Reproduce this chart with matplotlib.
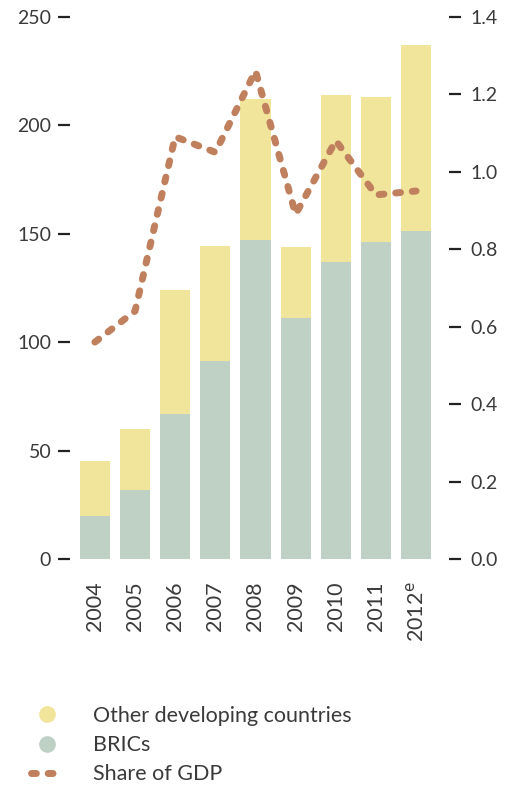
import matplotlib
matplotlib.use("Agg")
import matplotlib.pyplot as plt
from matplotlib.lines import Line2D
import numpy as np

plt.rcParams['font.family'] = ['Lato', 'DejaVu Sans']

# data
years = ['2004', '2005', '2006', '2007', '2008', '2009', '2010', '2011', '2012$^{\\rm e}$']
brics = [20, 32, 67, 91.5, 147, 111, 137, 146, 151]
totals = [45, 60, 124, 144.5, 212, 144, 214, 213, 237]
other = [t - b for t, b in zip(totals, brics)]
gdp_share = [0.56, 0.64, 1.09, 1.05, 1.26, 0.89, 1.08, 0.94, 0.95]

yellow = '#F1E59B'
green = '#BFD0C4'
brown = '#C0805E'
txt = '#3a3a3a'

fig = plt.figure(figsize=(5.07, 7.86), dpi=100)
ax = fig.add_axes([70/507, 1 - 559/786, (449 - 70)/507, (559 - 16.7)/786])

x = np.arange(len(years))
ax.bar(x, brics, width=0.75, color=green, zorder=2)
ax.bar(x, other, bottom=brics, width=0.75, color=yellow, zorder=2)

ax.set_xlim(-0.62, 8.82)
ax.set_ylim(0, 250)
ax.set_yticks([0, 50, 100, 150, 200, 250])
ax.set_xticks(x)
ax.set_xticklabels(years, rotation=90, fontsize=15.5, color=txt)
ax.tick_params(axis='x', length=0, pad=16)
ax.tick_params(axis='y', direction='out', length=8.5, width=1.6, color='#222222',
               labelsize=14, labelcolor=txt, pad=5)
for s in ax.spines.values():
    s.set_visible(False)

ax2 = ax.twinx()
ax2.set_ylim(0, 1.4)
ax2.set_yticks([0.0, 0.2, 0.4, 0.6, 0.8, 1.0, 1.2, 1.4])
ax2.set_yticklabels(['0.0', '0.2', '0.4', '0.6', '0.8', '1.0', '1.2', '1.4'])
ax2.tick_params(axis='y', direction='out', length=8.5, width=1.6, color='#222222',
                labelsize=14, labelcolor=txt, pad=7)
for s in ax2.spines.values():
    s.set_visible(False)

line, = ax2.plot(x, gdp_share, color=brown, lw=5, solid_capstyle='round',
                 dash_capstyle='round', zorder=3)
line.set_dashes((0.7, 1.7))

handles = [
    Line2D([], [], ls='none', marker='o', ms=11, color=yellow),
    Line2D([], [], ls='none', marker='o', ms=11, color=green),
    Line2D([], [], color=brown, lw=5, dash_capstyle='round', dashes=(0.7, 1.7)),
]
labels = ['Other developing countries', 'BRICs', 'Share of GDP']
fig.legend(handles, labels, loc='upper left', bbox_to_anchor=(31/507, 1 - 706/786),
           frameon=False, fontsize=15.5, labelcolor=txt, handlelength=1.45,
           handletextpad=1.45, labelspacing=0.42, borderpad=0, borderaxespad=0)

fig.savefig('out.png', dpi=100)
